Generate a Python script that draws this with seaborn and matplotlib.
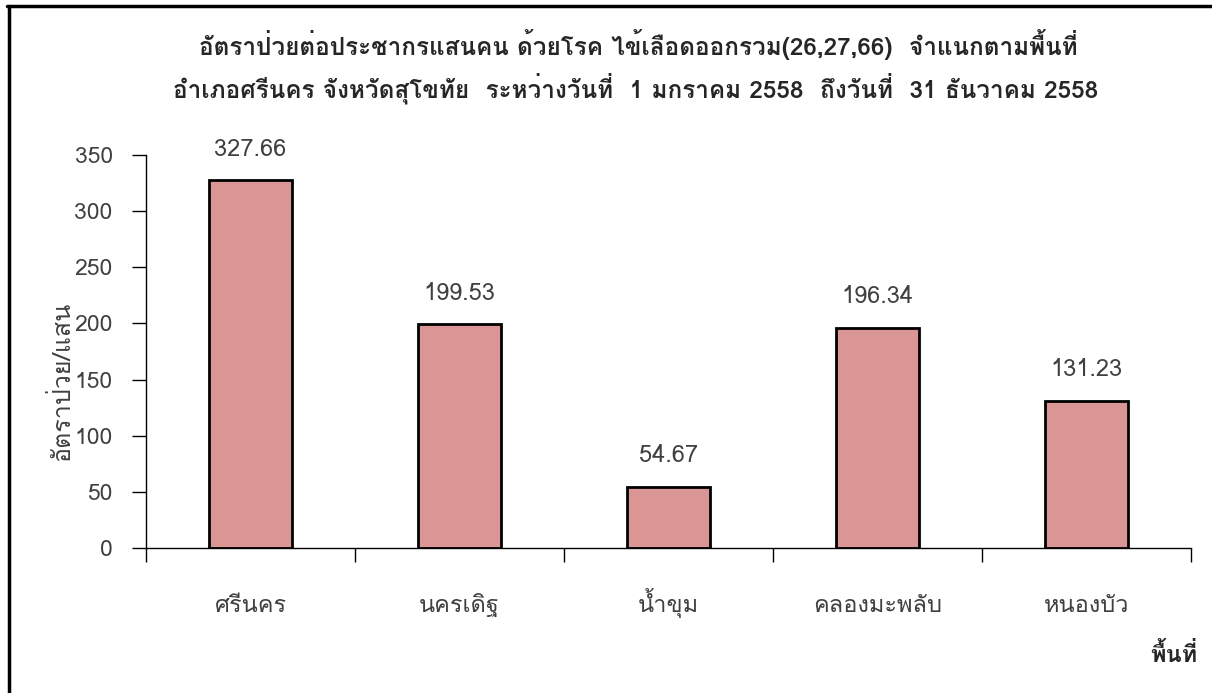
import matplotlib
matplotlib.use("Agg")
import matplotlib.pyplot as plt
from matplotlib import font_manager
from matplotlib.ft2font import FT2Font
from matplotlib.lines import Line2D
import seaborn as sns

# ข้อมูล
areas = ["ศรีนคร", "นครเดิฐ", "น้ำขุม", "คลองมะพลับ", "หนองบัว"]
rates = [327.66, 199.53, 54.67, 196.34, 131.23]
yticks = [0, 50, 100, 150, 200, 250, 300, 350]

title1 = "อัตราป่วยต่อประชากรแสนคน ด้วยโรค ไข้เลือดออกรวม(26,27,66)  จำแนกตามพื้นที่"
title2 = "อำเภอศรีนคร จังหวัดสุโขทัย  ระหว่างวันที่  1 มกราคม 2558  ถึงวันที่  31 ธันวาคม 2558"
ylabel = "อัตราป่วย/แสน"
xlabel = "พื้นที่"

sns.set_style("ticks")

# หาฟอนต์ที่มีอักษรไทย
thai_font = None
for f in font_manager.fontManager.ttflist:
    try:
        if 0x0E01 in FT2Font(f.fname).get_charmap():
            thai_font = f.name
            break
    except Exception:
        pass
families = [thai_font, "DejaVu Sans"] if thai_font else ["DejaVu Sans"]
plt.rcParams["font.family"] = families

fig = plt.figure(figsize=(12.12, 6.93), dpi=100)
ax = fig.add_axes([0.1205, 0.2092, 0.8622, 0.5671])

sns.barplot(x=areas, y=rates, color="#D99694", edgecolor="black",
            linewidth=2, width=0.4, saturation=1, ax=ax)

ax.bar_label(ax.containers[0], labels=[f"{v:.2f}" for v in rates],
             padding=14, fontsize=17, color="#404040")

ax.set_ylim(0, 350)
ax.set_xlim(-0.5, len(areas) - 0.5)
ax.set_yticks(yticks)
ax.set_xticks(range(len(areas)))
ax.set_xticks([i - 0.5 for i in range(len(areas) + 1)], minor=True)
ax.tick_params(axis="x", which="major", length=0, pad=46, labelsize=17,
               labelcolor="#404040")
for t in ax.get_xticklabels():
    t.set_verticalalignment("baseline")
ax.tick_params(axis="x", which="minor", length=10, width=1, color="black",
               direction="out")
ax.tick_params(axis="y", length=10, width=1, color="black", pad=14,
               labelsize=16.5, labelcolor="#404040")
ax.set_xlabel("")
ax.set_ylabel("")
sns.despine(ax=ax)
for s in ["left", "bottom"]:
    ax.spines[s].set_color("black")
    ax.spines[s].set_linewidth(1)

fig.text(638 / 1212, 1 - 45 / 693, title1, ha="center", va="center",
         fontsize=17.5, fontweight="bold")
fig.text(636 / 1212, 1 - 88 / 693, title2, ha="center", va="center",
         fontsize=17.5, fontweight="bold")
fig.text(62 / 1212, 1 - 381 / 693, ylabel, rotation=90, ha="center",
         va="center", fontsize=18, color="#404040")
fig.text(1174 / 1212, 1 - 655 / 693, xlabel, ha="center", va="center",
         fontsize=17, fontweight="bold")

# กรอบด้านซ้ายและด้านบน
fig.add_artist(Line2D([8.5 / 1212, 8.5 / 1212], [0, 1 - 5.5 / 693],
                      transform=fig.transFigure, color="black", linewidth=2.5))
fig.add_artist(Line2D([7 / 1212, 1], [1 - 5.5 / 693, 1 - 5.5 / 693],
                      transform=fig.transFigure, color="black", linewidth=2.5))

fig.savefig("out.png", dpi=100)
